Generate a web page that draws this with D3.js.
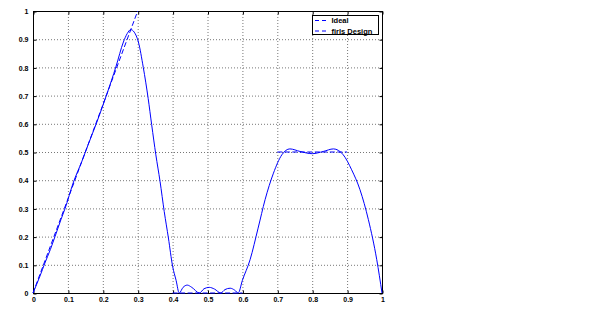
<!DOCTYPE html>
<html>
<head>
<meta charset="utf-8">
<script src="https://cdn.jsdelivr.net/npm/d3@7"></script>
<style>
  body { margin: 0; background: #fff; }
  svg { display: block; }
  .tick text { font-family: "Liberation Sans", Arial, sans-serif; font-size: 7px; font-weight: bold; fill: #000; }
  .legend text { font-family: "Liberation Sans", Arial, sans-serif; font-size: 7.5px; font-weight: bold; fill: #000; }
</style>
</head>
<body>
<svg id="chart" width="595" height="310"></svg>
<script>
"use strict";

const plotLeft = 33, plotRight = 382, plotTop = 11, plotBottom = 293;

// tick values and labels
const tickValues = [0, 0.1, 0.2, 0.3, 0.4, 0.5, 0.6, 0.7, 0.8, 0.9, 1];
const tickLabels = ["0", "0.1", "0.2", "0.3", "0.4", "0.5", "0.6", "0.7", "0.8", "0.9", "1"];

// ideal response, one [f0, f1] / [a0, a1] pair per band
const idealF = [[0, 0.3], [0.4, 0.6], [0.7, 0.9]];
const idealA = [[0, 1], [0, 0], [0.5, 0.5]];

// firls design magnitude
const designF = [0, 0.02, 0.034, 0.05, 0.063, 0.08, 0.092, 0.115, 0.14, 0.158, 0.182, 0.211, 0.238,
    0.259, 0.27, 0.28, 0.29, 0.302, 0.316, 0.33, 0.34, 0.352, 0.364, 0.376, 0.388, 0.4, 0.41, 0.419,
    0.43, 0.442, 0.455, 0.477, 0.49, 0.505, 0.52, 0.538, 0.55, 0.565, 0.578, 0.588,
    0.6, 0.622, 0.645, 0.665, 0.689, 0.713, 0.736, 0.765, 0.8, 0.832, 0.861, 0.889, 0.913, 0.937,
    0.961, 0.985, 1];
const designA = [0, 0.06, 0.106, 0.155, 0.2, 0.26, 0.3, 0.39, 0.467, 0.526, 0.603, 0.703, 0.804,
    0.89, 0.92, 0.934, 0.925, 0.89, 0.8, 0.69, 0.597, 0.49, 0.396, 0.289, 0.195, 0.095, 0.045, 0,
    0.02, 0.028, 0.02, 0, 0.015, 0.02, 0.014, 0, 0.012, 0.017, 0.01, 0,
    0.045, 0.118, 0.23, 0.331, 0.425, 0.49, 0.511, 0.502, 0.494, 0.502, 0.511, 0.49, 0.437, 0.366,
    0.26, 0.118, 0];

const legendNames = ["Ideal", "firls Design"];

window.addEventListener("load", init);

function init() {
    const svg = d3.select("svg#chart");
    svg.append("rect").attr("width", 595).attr("height", 310).attr("fill", "#fff");

    const xScale = d3.scaleLinear().domain([0, 1]).range([plotLeft, plotRight]);
    const yScale = d3.scaleLinear().domain([0, 1]).range([plotBottom, plotTop]);

    // dotted grid
    const inner = tickValues.slice(1, -1);
    svg.append("g").selectAll("line")
        .data(inner).join("line")
        .attr("x1", d => xScale(d) + 0.5).attr("x2", d => xScale(d) + 0.5)
        .attr("y1", plotTop).attr("y2", plotBottom)
        .attr("stroke", "#777").attr("stroke-dasharray", "1,2");
    svg.append("g").selectAll("line")
        .data(inner).join("line")
        .attr("y1", d => yScale(d) + 0.5).attr("y2", d => yScale(d) + 0.5)
        .attr("x1", plotLeft).attr("x2", plotRight)
        .attr("stroke", "#777").attr("stroke-dasharray", "1,2");

    // axes with inward ticks on all four sides
    const fmt = (d, i) => tickLabels[i];
    svg.append("g").attr("transform", `translate(0.5,${plotBottom + 0.5})`)
        .call(d3.axisBottom(xScale).tickValues(tickValues).tickFormat(fmt)
            .tickSizeInner(-3).tickSizeOuter(0).tickPadding(4));
    svg.append("g").attr("transform", `translate(${plotLeft + 0.5},0.5)`)
        .call(d3.axisLeft(yScale).tickValues(tickValues).tickFormat(fmt)
            .tickSizeInner(-3).tickSizeOuter(0).tickPadding(5));
    svg.append("g").attr("transform", `translate(0.5,${plotTop + 0.5})`)
        .call(d3.axisTop(xScale).tickValues(tickValues).tickFormat("")
            .tickSizeInner(-3).tickSizeOuter(0));
    svg.append("g").attr("transform", `translate(${plotRight + 0.5},0.5)`)
        .call(d3.axisRight(yScale).tickValues(tickValues).tickFormat("")
            .tickSizeInner(-3).tickSizeOuter(0));
    svg.selectAll(".domain").remove();
    svg.append("rect")
        .attr("x", plotLeft + 0.5).attr("y", plotTop + 0.5)
        .attr("width", plotRight - plotLeft).attr("height", plotBottom - plotTop)
        .attr("fill", "none").attr("stroke", "#000");

    // ideal bands, dashed
    const line = d3.line().x(d => xScale(d[0])).y(d => yScale(d[1]));
    idealF.forEach(function(f, i) {
        svg.append("path")
            .attr("d", line([[f[0], idealA[i][0]], [f[1], idealA[i][1]]]))
            .attr("fill", "none").attr("stroke", "#00f")
            .attr("stroke-dasharray", "5,2.5");
    });

    // firls design, solid
    const pts = designF.map((f, i) => [f, designA[i]]);
    svg.append("path")
        .attr("d", line.curve(d3.curveMonotoneX)(pts))
        .attr("fill", "none").attr("stroke", "#00f");

    // legend
    const lg = svg.append("g").attr("class", "legend");
    lg.append("rect").attr("x", 312.5).attr("y", 15.5).attr("width", 66).attr("height", 19)
        .attr("fill", "#fff").attr("stroke", "#000");
    legendNames.forEach(function(name, i) {
        const yy = 20.5 + i * 10.5;
        lg.append("line").attr("x1", 315).attr("x2", 326).attr("y1", yy).attr("y2", yy)
            .attr("stroke", "#00f").attr("stroke-dasharray", "4,3");
        lg.append("text").attr("x", 331.5).attr("y", yy + 2.6).text(name);
    });
}
</script>
</body>
</html>
